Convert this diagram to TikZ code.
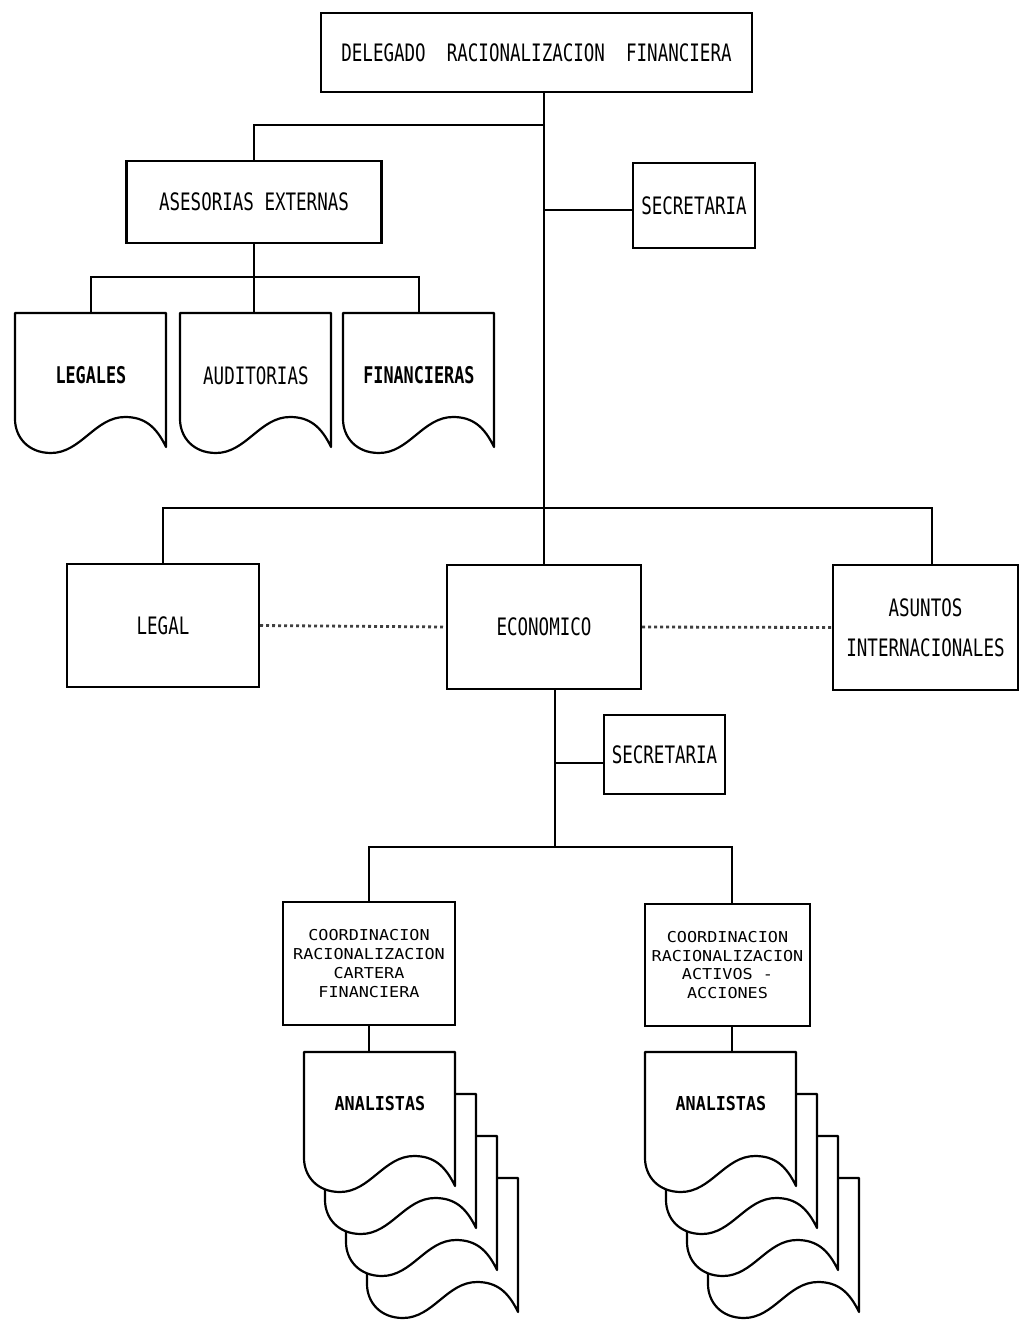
\documentclass[tikz,border=0pt]{standalone}
\usepackage{fontspec}
\usepackage{tikz}
\usetikzlibrary{positioning}

\newfontfamily\tallfont{DejaVu Sans Mono}[FakeStretch=0.73]
\newfontfamily\smallfont{DejaVu Sans Mono}[FakeStretch=1.12]
\newfontfamily\docfont{DejaVu Sans Mono}[FakeStretch=0.87]

\begin{document}
\begin{tikzpicture}[x=0.5pt,y=-0.5pt,
  link/.style={draw,line width=0.7pt},
  unit/.style={draw,line width=1.2pt,inner sep=0pt,align=center,
    font=\tallfont\fontsize{12}{15}\selectfont},
  coordbox/.style={unit,font=\smallfont\fontsize{7.5}{9.35}\selectfont},
  docline/.style={draw,fill=white,line width=1.1pt,line join=round},
  docnode/.style={anchor=north west,inner sep=0pt,minimum width=75.5pt,minimum height=62pt,
    font=\tallfont\fontsize{12}{15}\selectfont},
  anabox/.style={docnode,minimum height=51pt,font=\docfont\bfseries\fontsize{9.6}{11}\selectfont},
  dotlink/.style={line width=1.4pt,dash pattern=on 1.4pt off 1.6pt,draw=black!75},
  docpage/.pic={
    \draw[docline] (0,0) -- (151,0) -- (151,134)
      .. controls (141,113) and (129,104) .. (110,104)
      .. controls (80,104) and (66,140) .. (36,140)
      .. controls (13,140) and (0,124) .. (0,106) -- cycle;
  }]

  \useasboundingbox (0,0) rectangle (1021,1322);

  % top of the chart
  \node[unit,minimum width=215.5pt,minimum height=39.5pt] (top) at (536.5,52.5) {DELEGADO~~RACIONALIZACION~~FINANCIERA};
  \node[unit,minimum width=127.5pt,minimum height=41pt] (ases) at (254,202) {ASESORIAS EXTERNAS};
  \node[unit,minimum width=61pt,minimum height=42.5pt] (sec1) at (694,205.5) {SECRETARIA};

  % external advisers
  \pic at (15,313) {docpage};
  \pic at (180,313) {docpage};
  \pic at (343,313) {docpage};
  \node[docnode,font=\tallfont\bfseries\fontsize{11.5}{14}\selectfont] (legales) at (15,313) {LEGALES};
  \node[docnode] (auditorias) at (180,313) {AUDITORIAS};
  \node[docnode,font=\tallfont\bfseries\fontsize{11.5}{14}\selectfont] (financieras) at (343,313) {FINANCIERAS};

  % areas
  \node[unit,minimum width=96pt,minimum height=61.5pt] (legal) at (163,625.5) {LEGAL};
  \node[unit,minimum width=97pt,minimum height=62pt] (econ) at (544,627) {ECONOMICO};
  \node[unit,minimum width=92.5pt,minimum height=62.5pt] (asuntos) at (925.5,627.5) {ASUNTOS\\[5pt]INTERNACIONALES};

  \node[unit,minimum width=60.5pt,minimum height=39.5pt] (sec2) at (664.5,754.5) {SECRETARIA};
  \node[coordbox,minimum width=86pt,minimum height=61.5pt] (coord1) at (369,963.5) {COORDINACION\\RACIONALIZACION\\CARTERA\\FINANCIERA};
  \node[coordbox,minimum width=82.5pt,minimum height=61pt] (coord2) at (727.5,965) {COORDINACION\\RACIONALIZACION\\ACTIVOS -\\ACCIONES};

  % analysts, stacked pages
  \foreach \k in {3,2,1} {\pic at (304+21*\k,1052+42*\k) {docpage};}
  \pic at (304,1052) {docpage};
  \node[anabox] (ana1) at (304,1052) {ANALISTAS};
  \foreach \k in {3,2,1} {\pic at (645+21*\k,1052+42*\k) {docpage};}
  \pic at (645,1052) {docpage};
  \node[anabox] (ana2) at (645,1052) {ANALISTAS};

  % connectors
  \coordinate (split) at (544,125);
  \coordinate (hub) at (555,847);
  \draw[link] (top.south -| econ.north) -- (econ.north);
  \draw[link] (ases.north) |- (split);
  \draw[link] ([yshift=-2.25pt]sec1.west) -- ([yshift=-2.25pt]sec1.west -| econ.north);
  \draw[link] (ases.south) -- (ases.south |- auditorias.north);
  \draw[link] (legales.north) -- ++(0,-36) -| (financieras.north);
  \draw[link] (legal.north) -- ++(0,-55) -| ([xshift=3.25pt]asuntos.north);
  \draw[dotlink] (legal.east) -- (econ.west);
  \draw[dotlink] (econ.east) -- (asuntos.west);
  \draw[link] ([xshift=5.5pt]econ.south) -- (hub);
  \draw[link] ([yshift=-4.25pt]sec2.west) -- ([yshift=-4.25pt]sec2.west -| hub);
  \draw[link] (coord1.north) |- (hub) -| ([xshift=2.25pt]coord2.north);
  \draw[link] (coord1.south) -- (coord1.south |- ana1.north);
  \draw[link] ([xshift=2.25pt]coord2.south) -- ([xshift=2.25pt]coord2.south |- ana2.north);
\end{tikzpicture}
\end{document}
